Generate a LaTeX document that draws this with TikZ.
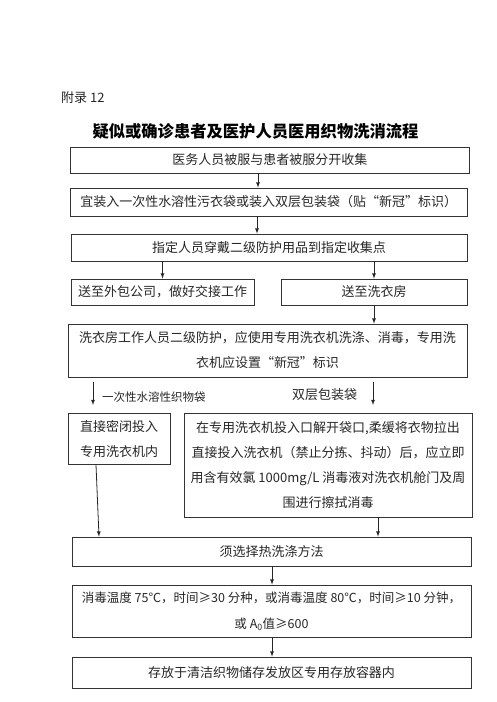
\documentclass[tikz,border=0pt]{standalone}
\usepackage{fontspec}
\setmainfont{Noto Sans CJK SC}
\usetikzlibrary{arrows}

\tikzset{
	box/.style={draw=black!80, line width=0.8pt, inner sep=0pt, align=center, text=black!85, font=\fontsize{13}{25}\selectfont},
	lbl/.style={text=black!85, inner sep=0pt},
}

\begin{document}
\begin{tikzpicture}[x=1pt, y=-1pt, >=latex]
\useasboundingbox (0,0) rectangle (496,702);
\node[lbl, anchor=west, font=\fontsize{13}{15}\selectfont] (fulu) at (61,98) {附录 12};
\node[font=\fontsize{16.3}{18}\selectfont\bfseries] (title) at (255.5,131) {疑似或确诊患者及医护人员医用织物洗消流程};

\node[box, minimum width=398.5pt, minimum height=26pt] (b1) at (269.75,160) {医务人员被服与患者被服分开收集};
\node[box, minimum width=396.5pt, minimum height=28pt] (b2) at (268.75,202) {宜装入一次性水溶性污衣袋或装入双层包装袋（贴“新冠”标识）};
\node[box, minimum width=396pt, minimum height=27pt] (b3) at (269,247.5) {指定人员穿戴二级防护用品到指定收集点};
\node[box, minimum width=183pt, minimum height=26pt] (b4) at (162.5,292) {送至外包公司，做好交接工作};
\node[box, minimum width=186pt, minimum height=26pt] (b5) at (374,292) {送至洗衣房};
\node[box, minimum width=399pt, minimum height=53pt] (b6) at (267.5,350.5)
	{洗衣房工作人员二级防护，应使用专用洗衣机洗涤、消毒，专用洗\\衣机应设置“新冠”标识};
\node[box, minimum width=102pt, minimum height=51.5pt] (b7) at (119,438.75) {直接密闭投入\\专用洗衣机内};
\node[box, minimum width=288pt, minimum height=104pt] (b8) at (328,465)
	{在专用洗衣机投入口解开袋口,柔缓将衣物拉出\\直接投入洗衣机（禁止分拣、抖动）后，应立即\\用含有效氯 1000mg/L 消毒液对洗衣机舱门及周\\围进行擦拭消毒};
\node[box, minimum width=399pt, minimum height=29pt] (b9) at (271.5,551.5) {须选择热洗涤方法};
\node[box, minimum width=399pt, minimum height=52pt, font=\fontsize{12.5}{26}\selectfont] (b10) at (271.5,611)
	{消毒温度 75℃，时间≥30 分种，或消毒温度 80℃，时间≥10 分钟，\\或 A\textsubscript{0}值≥600};
\node[box, minimum width=399pt, minimum height=31pt] (b11) at (271.5,672.5) {存放于清洁织物储存发放区专用存放容器内};

% free arrows under the laundry box
\coordinate (sol) at (93,382);
\coordinate (sole) at (93,405);
\coordinate (dbl) at (373,382);
\coordinate (dble) at (373,405);
\node[lbl, anchor=west, font=\fontsize{11.5}{13}\selectfont] (lsol) at (102,397) {一次性水溶性织物袋};
\node[lbl, font=\fontsize{13}{15}\selectfont] (ldbl) at (324.5,395) {双层包装袋};

\path[->, black!85, line width=0.8pt]
(b1.south -| 258,0) edge (b2.north -| 258,0)
(b2.south -| 257,0) edge (b3.north -| 257,0)
(b3.south -| b4.north) edge (b4.north)
(b3.south -| b5.north) edge (b5.north)
(b5.south) edge (b6.north -| b5.south)
(sol) edge (sole)
(dbl) edge (dble)
(b7.south -| 96,0) edge (b9.north -| 99,0)
(b8.south -| 378,0) edge (b9.north -| 378,0)
(b9.south -| 272,0) edge (b10.north -| 272,0)
(b10.south -| 272,0) edge (b11.north -| 272,0)
;
\end{tikzpicture}
\end{document}
